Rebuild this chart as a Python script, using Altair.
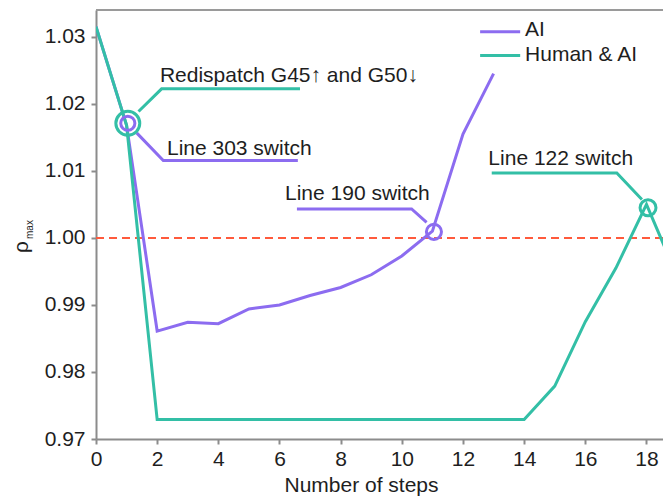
import altair as alt
import pandas as pd

# ---- data ----
ai_steps = [0, 1, 2, 3, 4, 5, 6, 7, 8, 9, 10, 11, 12, 13]
ai_vals = [1.0315, 1.0168, 0.9861, 0.9874, 0.9872, 0.9894, 0.9900, 0.9914,
           0.9926, 0.9945, 0.9973, 1.0010, 1.0155, 1.0245]
human_steps = list(range(0, 20))
human_vals = [1.0315, 1.0168, 0.9729, 0.9729, 0.9729, 0.9729, 0.9729, 0.9729,
              0.9729, 0.9729, 0.9729, 0.9729, 0.9729, 0.9729, 0.9729, 0.9779,
              0.9875, 0.9955, 1.0050, 0.9943]
series_names = ["AI", "Human & AI"]
series_colors = ["#8c6cf0", "#33bfa6"]
threshold = 1.00

x_ticks = [0, 2, 4, 6, 8, 10, 12, 14, 16, 18]
y_ticks = [0.97, 0.98, 0.99, 1.00, 1.01, 1.02, 1.03]
x_domain = [0, 18.54]
y_domain = [0.97, 1.034]

# annotations (data coordinates)
ann_text = ["Redispatch G45\u2191 and G50\u2193", "Line 303 switch",
            "Line 190 switch", "Line 122 switch"]
ann_x = [2.09, 2.32, 6.18, 12.83]
ann_y = [1.02333, 1.01243, 1.00572, 1.01094]

leader_group = [0, 0, 0, 1, 1, 1, 2, 2, 2, 3, 3, 3]
leader_x = [1.39, 2.145, 6.67, 1.33, 2.20, 6.60, 6.57, 10.32, 10.81, 12.94, 17.03, 17.85]
leader_y = [1.01885, 1.02224, 1.02224, 1.01567, 1.01154, 1.01154,
            1.00433, 1.00433, 1.00233, 1.0097, 1.0097, 1.00572]
leader_color = ["#33bfa6"] * 3 + ["#8c6cf0"] * 6 + ["#33bfa6"] * 3

circle_x = [1.04, 1.04, 11.05, 18.05]
circle_y = [1.0171, 1.0171, 1.0009, 1.0045]
circle_size = [572, 200, 227, 254]
circle_color = ["#33bfa6", "#8c6cf0", "#8c6cf0", "#33bfa6"]

legend_x = [12.56, 12.56]
legend_x2 = [13.87, 13.87]
legend_y = [1.03075, 1.02721]
legend_text_x = [14.03, 14.03]
legend_text_y = [1.03009, 1.02642]

FONT = "Liberation Sans"
TXT = "#1e1e1e"
PLOT_W = 567
PLOT_H = 429

# ---- tables ----
lines_df = pd.DataFrame({
    "step": ai_steps + human_steps,
    "rho": ai_vals + human_vals,
    "series": [series_names[0]] * len(ai_steps) + [series_names[1]] * len(human_steps),
})
lead_df = pd.DataFrame({"x": leader_x, "y": leader_y, "g": leader_group,
                        "c": leader_color, "o": list(range(len(leader_x)))})
circ_df = pd.DataFrame({"x": circle_x, "y": circle_y, "s": circle_size, "c": circle_color})
ann_df = pd.DataFrame({"x": ann_x, "y": ann_y, "t": ann_text})
leg_df = pd.DataFrame({"x": legend_x, "x2": legend_x2, "y": legend_y,
                       "tx": legend_text_x, "ty": legend_text_y,
                       "t": series_names, "c": series_colors})
thr_df = pd.DataFrame({"y": [threshold]})

xs = alt.Scale(domain=x_domain, nice=False, zero=False)
ys = alt.Scale(domain=y_domain, nice=False, zero=False)

x_axis = alt.Axis(values=x_ticks, title="Number of steps", titleX=265, titleY=52,
                  titleBaseline="alphabetic", labelFlush=False, labelPadding=4)
y_axis = alt.Axis(values=y_ticks, format=".2f", title=None, labelFlush=False,
                  labelPadding=6)

thr = alt.Chart(thr_df).mark_rule(color="#ff5a3c", strokeWidth=2, strokeDash=[8, 5]).encode(
    y=alt.Y("y:Q", scale=ys, axis=y_axis)
)

lines = alt.Chart(lines_df).mark_line(strokeWidth=3, clip=True).encode(
    x=alt.X("step:Q", scale=xs, axis=x_axis),
    y=alt.Y("rho:Q", scale=ys, axis=y_axis),
    color=alt.Color("series:N", scale=alt.Scale(domain=series_names, range=series_colors),
                    legend=None),
    order=alt.Order("step:Q"),
)

leaders = alt.Chart(lead_df).mark_line(strokeWidth=3).encode(
    x=alt.X("x:Q", scale=xs), y=alt.Y("y:Q", scale=ys),
    detail="g:N", order="o:Q", color=alt.Color("c:N", scale=None),
)

circles = alt.Chart(circ_df).mark_point(filled=False, strokeWidth=3, opacity=1,
                                        shape="circle").encode(
    x=alt.X("x:Q", scale=xs), y=alt.Y("y:Q", scale=ys),
    size=alt.Size("s:Q", scale=None), color=alt.Color("c:N", scale=None),
)

anns = alt.Chart(ann_df).mark_text(align="left", baseline="alphabetic", font=FONT,
                                   fontSize=21, color=TXT).encode(
    x=alt.X("x:Q", scale=xs), y=alt.Y("y:Q", scale=ys), text="t:N"
)

leg_lines = alt.Chart(leg_df).mark_rule(strokeWidth=3).encode(
    x=alt.X("x:Q", scale=xs), x2="x2:Q", y=alt.Y("y:Q", scale=ys),
    color=alt.Color("c:N", scale=None),
)
leg_text = alt.Chart(leg_df).mark_text(align="left", baseline="alphabetic", font=FONT,
                                       fontSize=21, color=TXT).encode(
    x=alt.X("tx:Q", scale=xs), y=alt.Y("ty:Q", scale=ys), text="t:N"
)

frame_top = alt.Chart(thr_df).mark_rule(color="#9a9a9a", strokeWidth=2).encode(
    y=alt.value(0), x=alt.value(0), x2=alt.value(PLOT_W)
)

rho_lbl = alt.Chart(thr_df).mark_text(angle=270, align="left", baseline="alphabetic",
                                      font=FONT, fontSize=21, color=TXT).encode(
    x=alt.value(-68), y=alt.value(243), text=alt.value("\u03c1")
)
max_lbl = alt.Chart(thr_df).mark_text(angle=270, align="left", baseline="alphabetic",
                                      font=FONT, fontSize=10, color=TXT).encode(
    x=alt.value(-63), y=alt.value(229), text=alt.value("max")
)

chart = alt.layer(
    frame_top, thr, lines, leaders, circles, anns, leg_lines, leg_text, rho_lbl, max_lbl
).properties(
    width=PLOT_W, height=PLOT_H,
    padding={"left": 88, "top": 2, "right": 0, "bottom": 59},
    autosize=alt.AutoSizeParams(type="none"),
).configure_view(stroke=None).configure_axis(
    labelFont=FONT, labelFontSize=21, labelColor=TXT,
    titleFont=FONT, titleFontSize=21, titleColor=TXT, titleFontWeight="normal",
    domainColor="#8c8c8c", domainWidth=2, tickColor="#8c8c8c", tickWidth=2,
    tickSize=5, grid=False,
)

chart.save("out.html", embed_options={"renderer": "svg", "actions": False})
